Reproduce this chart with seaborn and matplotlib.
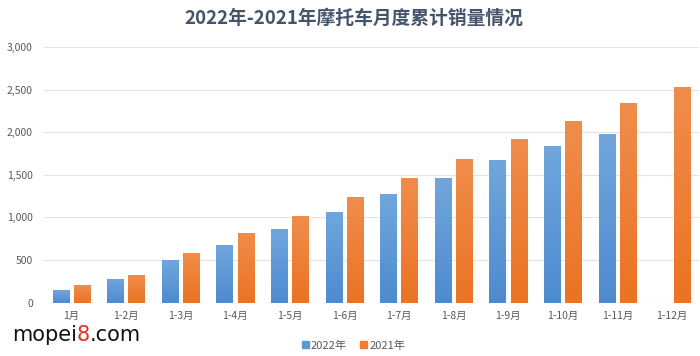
import numpy as np
import pandas as pd
import seaborn as sns
import matplotlib.pyplot as plt
from matplotlib.colors import LinearSegmentedColormap

# cumulative motorcycle sales by month
months = ['1月', '1-2月', '1-3月', '1-4月', '1-5月', '1-6月',
          '1-7月', '1-8月', '1-9月', '1-10月', '1-11月', '1-12月']
sales_2022 = [145, 282, 497, 676, 860, 1069, 1271, 1467, 1679, 1835, 1973, np.nan]
sales_2021 = [205, 329, 582, 822, 1021, 1245, 1459, 1690, 1925, 2133, 2337, 2533]
series = ['2022年', '2021年']

df = pd.DataFrame({'month': months * 2,
                   'year': [series[0]] * 12 + [series[1]] * 12,
                   'sales': sales_2022 + sales_2021})

sns.set_theme(style='white')
plt.rcParams['font.family'] = ['Noto Sans CJK SC', 'DejaVu Sans']

blue = '#5b9bd5'
orange = '#ed7d31'

fig = plt.figure(figsize=(7, 3.56), dpi=100)
ax = fig.add_axes([0.063, 0.150, 0.936, 0.718])

sns.barplot(data=df, x='month', y='sales', hue='year', hue_order=series,
            palette=[blue, orange], saturation=1, width=0.77, gap=0.22, ax=ax,
            legend=False, zorder=2, linewidth=0, edgecolor='none')

# Excel style vertical gradient on each bar
grads = [('#4d8bd0', '#70a6dc'), ('#eb7322', '#f08d4c')]
for cont, (lo, hi) in zip(ax.containers, grads):
    cmap = LinearSegmentedColormap.from_list('g', [lo, hi])
    for p in cont.patches:
        h = p.get_height()
        if not np.isfinite(h) or h == 0:
            continue
        x0 = p.get_x()
        im = ax.imshow(np.linspace(0, 1, 100).reshape(-1, 1), cmap=cmap, origin='lower',
                       extent=[x0, x0 + p.get_width(), 0, h], aspect='auto', zorder=3)
        im.set_clip_path(p)
        p.set_facecolor('none')

ax.set_xlim(-0.5, 11.5)
ax.set_ylim(0, 3000)
ax.set_yticks(range(0, 3001, 500))
ax.set_yticklabels([f'{v:,}' for v in range(0, 3001, 500)])
ax.yaxis.grid(True, color='#e3e3e3', linewidth=0.8, zorder=0)
ax.set_axisbelow(True)
for s in ax.spines.values():
    s.set_visible(False)
ax.axhline(0, color='#d9d9d9', linewidth=0.8, zorder=1)
ax.set_xlabel('')
ax.set_ylabel('')
ax.tick_params(axis='both', length=0, labelsize=7.5, colors='#595959')
ax.tick_params(axis='y', pad=8)
ax.tick_params(axis='x', pad=6)

fig.text(0.505, 0.948, '2022年-2021年摩托车月度累计销量情况', ha='center', va='center',
         fontsize=13.5, fontweight='bold', color='#44546a')

handles = [plt.Rectangle((0, 0), 1, 1, color=blue), plt.Rectangle((0, 0), 1, 1, color=orange)]
fig.legend(handles, series, loc='center', bbox_to_anchor=(0.505, 0.03), ncol=2,
           frameon=False, fontsize=8, labelcolor='#595959', handlelength=0.6,
           handleheight=0.6, handletextpad=0.2, columnspacing=1.2)

# site watermark, pieces placed one after another
renderer = fig.canvas.get_renderer()
x = 0.017
for part, col in [('mopei', '#111111'), ('8', '#e0301e'), ('.com', '#111111')]:
    t = fig.text(x, 0.058, part, fontsize=15, color=col, family='DejaVu Sans', va='center')
    bb = t.get_window_extent(renderer=renderer)
    x = fig.transFigure.inverted().transform((bb.x1, bb.y0))[0]

fig.savefig('out.png', dpi=100)
